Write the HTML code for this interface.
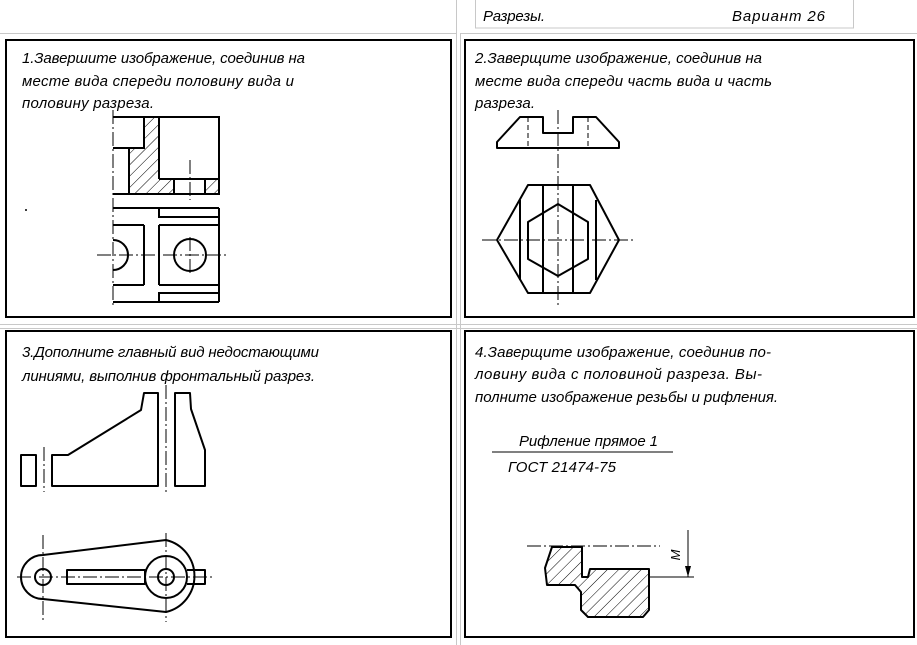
<!DOCTYPE html>
<html><head><meta charset="utf-8"><style>html,body{margin:0;padding:0;background:#fff}svg{display:block}</style></head><body>
<svg width="917" height="645" viewBox="0 0 917 645" xmlns="http://www.w3.org/2000/svg" font-family="'Liberation Sans Narrow','Liberation Sans',sans-serif" font-style="italic" font-size="15">
<defs>
<pattern id="h" patternUnits="userSpaceOnUse" width="8" height="8" patternTransform="rotate(45)"><line x1="0" y1="0" x2="0" y2="8" stroke="#000" stroke-width="1"/></pattern>
</defs>
<g stroke="#c8c8c8" stroke-width="1" fill="none">
<line x1="456.5" y1="0" x2="456.5" y2="645"/>
<line x1="460.5" y1="33" x2="460.5" y2="645"/>
<line x1="0" y1="33.5" x2="456" y2="33.5"/>
<line x1="460" y1="33.5" x2="917" y2="33.5"/>
<rect x="475.5" y="-1" width="378" height="29"/>
<line x1="0" y1="324.5" x2="917" y2="324.5"/>
<line x1="0" y1="328.5" x2="917" y2="328.5"/>
</g>
<text x="483" y="21" textLength="62">Разрезы.</text>
<text x="732" y="21" textLength="93">Вариант  26</text>
<g stroke="#000" stroke-width="2" fill="none">
<rect x="6" y="40" width="445" height="277"/>
<rect x="465" y="40" width="449" height="277"/>
<rect x="6" y="331" width="445" height="306"/>
<rect x="465" y="331" width="449" height="306"/>
</g>
<g fill="#000">
<text x="22" y="63" textLength="283">1.Завершите изображение, соединив на</text>
<text x="22" y="86" textLength="272">месте вида спереди половину вида и</text>
<text x="22" y="108" textLength="132">половину разреза.</text>
<text x="475" y="63" textLength="287">2.Заверщите изображение, соединив на</text>
<text x="475" y="86" textLength="297">месте вида спереди часть вида и часть</text>
<text x="475" y="108" textLength="60">разреза.</text>
<text x="22" y="357" textLength="297">3.Дополните главный вид недостающими</text>
<text x="22" y="381" textLength="293">линиями, выполнив фронтальный разрез.</text>
<text x="475" y="357" textLength="296">4.Заверщите изображение, соединив по-</text>
<text x="475" y="379" textLength="287">ловину вида с половиной разреза. Вы-</text>
<text x="475" y="402" textLength="303">полните изображение резьбы и рифления.</text>
<text x="519" y="446" textLength="139">Рифление прямое 1</text>
<text x="508" y="472" textLength="108">ГОСТ 21474-75</text>
<circle cx="26" cy="210" r="1"/>
</g>
<line x1="492" y1="452" x2="673" y2="452" stroke="#000" stroke-width="1"/>

<!-- Panel 1 -->
<polygon points="144,117 159,117 159,179 174,179 174,194 129,194 129,148 144,148" fill="url(#h)"/>
<rect x="205" y="179" width="14" height="15" fill="url(#h)"/>
<g stroke="#000" stroke-width="2" fill="none">
<polyline points="113,117 219,117 219,194 113,194"/>
<polyline points="113,148 144,148 144,117"/>
<line x1="129" y1="148" x2="129" y2="194"/>
<line x1="159" y1="117" x2="159" y2="179"/>
<line x1="159" y1="179" x2="219" y2="179"/>
<line x1="174" y1="179" x2="174" y2="194"/>
<line x1="205" y1="179" x2="205" y2="194"/>
<line x1="113" y1="208" x2="219" y2="208"/>
<polyline points="159,208 159,217 219,217"/>
<line x1="113" y1="225" x2="144" y2="225"/>
<line x1="159" y1="225" x2="219" y2="225"/>
<line x1="144" y1="225" x2="144" y2="285"/>
<line x1="159" y1="225" x2="159" y2="285"/>
<line x1="113" y1="285" x2="144" y2="285"/>
<line x1="159" y1="285" x2="219" y2="285"/>
<polyline points="219,293 159,293 159,302"/>
<line x1="113" y1="302" x2="219" y2="302"/>
<line x1="219" y1="208" x2="219" y2="302"/>
<path d="M113,240 A15,15 0 0 1 113,270"/>
<circle cx="190" cy="255" r="16"/>
</g>
<g stroke="#000" stroke-width="1" fill="none" stroke-dasharray="14,3,2,3">
<line x1="113" y1="110" x2="113" y2="307"/>
<line x1="97" y1="255" x2="228" y2="255"/>
<line x1="190" y1="237" x2="190" y2="273"/>
<line x1="190" y1="160" x2="190" y2="200"/>
</g>

<!-- Panel 2 -->
<g stroke="#000" stroke-width="2" fill="none" stroke-linejoin="round">
<polygon points="497,148 497,142 520,117 543,117 543,133 573,133 573,117 596,117 619,142 619,148"/>
<polygon points="528,185 590,185 619,240 590,293 528,293 497,240"/>
<polygon points="558,204 588,222 588,259 558,276 528,259 528,222"/>
<line x1="520" y1="200" x2="520" y2="280"/>
<line x1="543" y1="185" x2="543" y2="293"/>
<line x1="573" y1="185" x2="573" y2="293"/>
<line x1="596" y1="200" x2="596" y2="280"/>
</g>
<g stroke="#000" stroke-width="1" fill="none">
<line x1="528" y1="117" x2="528" y2="148" stroke-dasharray="5,3"/>
<line x1="588" y1="117" x2="588" y2="148" stroke-dasharray="5,3"/>
<line x1="558" y1="110" x2="558" y2="308" stroke-dasharray="14,3,2,3"/>
<line x1="482" y1="240" x2="635" y2="240" stroke-dasharray="14,3,2,3"/>
</g>

<!-- Panel 3 -->
<g stroke="#000" stroke-width="2" fill="none" stroke-linejoin="round">
<rect x="21" y="455" width="15" height="31"/>
<polygon points="52,455 68,455 141,410 144,393 158,393 158,486 52,486"/>
<polygon points="175,393 190,393 191,409 205,450 205,486 175,486"/>
<path d="M43,555 L166,540 A37,37 0 0 1 166,612 L43,599 A22,22 0 0 1 43,555 Z"/>
<circle cx="43" cy="577" r="8"/>
<circle cx="166" cy="577" r="21"/>
<circle cx="166" cy="577" r="8"/>
<rect x="67" y="570" width="78" height="14"/>
<polyline points="187,570 205,570 205,584 187,584"/>
</g>
<g stroke="#000" stroke-width="1" fill="none" stroke-dasharray="14,3,2,3">
<line x1="44" y1="447" x2="44" y2="492"/>
<line x1="166" y1="385" x2="166" y2="492"/>
<line x1="17" y1="577" x2="213" y2="577"/>
<line x1="43" y1="535" x2="43" y2="620"/>
<line x1="166" y1="533" x2="166" y2="622"/>
</g>

<!-- Panel 4 -->
<polygon points="552,547 582,547 582,577 588,577 590,569 649,569 649,610 643,617 588,617 581,610 581,592 575,585 547,585 545,568" fill="url(#h)" stroke="#000" stroke-width="2" stroke-linejoin="round"/>
<g stroke="#000" stroke-width="1" fill="none">
<line x1="527" y1="546" x2="660" y2="546" stroke-dasharray="14,3,2,3"/>
<line x1="649" y1="577" x2="694" y2="577"/>
<line x1="688" y1="530" x2="688" y2="577"/>
</g>
<polygon points="688,577 685,566 691,566" fill="#000"/>
<text transform="translate(680,555) rotate(-90)" font-size="13" text-anchor="middle" fill="#000">M</text>
</svg>
</body></html>
